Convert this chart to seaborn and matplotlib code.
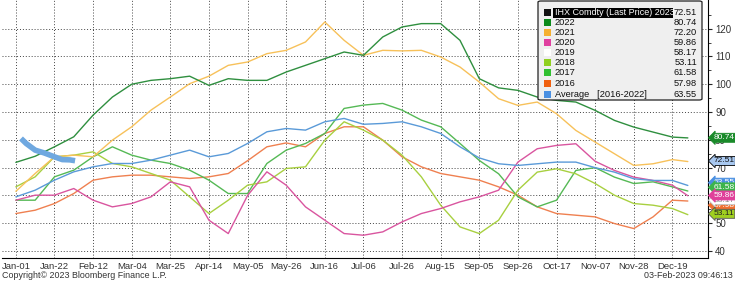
import numpy as np
import pandas as pd
import matplotlib
matplotlib.use("Agg")
import matplotlib.pyplot as plt
from matplotlib.patches import Rectangle, FancyBboxPatch
import seaborn as sns

# ---------------- data ----------------
tick_labels = ["Jan-01", "Jan-22", "Feb-12", "Mar-04", "Mar-25", "Apr-14", "May-05",
               "May-26", "Jun-16", "Jul-06", "Jul-26", "Aug-15", "Sep-05", "Sep-26",
               "Oct-17", "Nov-07", "Nov-28", "Dec-19"]

# business-day index of the sampled points
x_pos = list(np.arange(0, 256, 7.5)) + [261]

y2022 = [71.9, 74.1, 77.5, 81.1, 88.9, 95.4, 100.0, 101.4, 102.0, 102.9, 99.6, 102.0,
         101.4, 101.4, 104.4, 106.8, 109.2, 111.6, 110.4, 117.0, 120.6, 121.8, 121.8, 115.8,
         102.0, 98.7, 97.8, 95.4, 94.2, 93.6, 90.6, 87.0, 84.6, 82.8, 81.0, 80.7]
y2021 = [61.5, 67.9, 73.9, 74.5, 73.9, 79.9, 84.7, 90.7, 95.4, 100.2, 102.9, 106.8,
         108.0, 111.0, 112.2, 115.2, 122.4, 115.8, 110.4, 112.2, 112.0, 112.2, 109.8, 106.2,
         100.8, 94.8, 92.4, 93.6, 89.4, 83.4, 79.2, 75.0, 70.8, 71.4, 72.9, 72.2]
y2020 = [58.3, 60.1, 60.1, 62.5, 58.3, 55.9, 57.1, 59.5, 64.9, 63.1, 51.1, 46.3,
         60.0, 68.5, 63.7, 55.9, 51.1, 46.3, 45.7, 46.9, 50.5, 53.5, 55.3, 57.7,
         59.5, 61.9, 72.0, 76.8, 78.0, 78.6, 72.3, 69.0, 66.6, 65.4, 63.7, 59.9]
y2018 = [63.1, 66.7, 73.9, 74.5, 75.7, 71.5, 70.3, 67.9, 65.5, 59.5, 53.5, 58.3,
         63.7, 64.9, 69.7, 70.3, 79.9, 86.5, 83.5, 79.9, 74.5, 66.7, 56.5, 48.7,
         46.3, 51.1, 61.9, 68.4, 69.6, 67.8, 64.3, 60.1, 57.1, 56.5, 55.3, 53.1]
y2017 = [58.3, 58.3, 66.7, 69.1, 73.9, 77.5, 74.5, 72.7, 71.5, 69.1, 65.5, 60.7,
         60.7, 71.5, 76.3, 78.7, 82.3, 91.3, 92.5, 93.1, 90.7, 87.1, 84.7, 78.7,
         72.6, 67.8, 59.5, 55.9, 58.3, 69.0, 70.0, 66.6, 64.3, 64.9, 63.1, 61.6]
y2016 = [53.5, 54.7, 57.1, 60.7, 65.5, 66.7, 67.3, 67.3, 66.7, 66.1, 66.7, 67.9,
         72.5, 77.5, 78.9, 77.5, 82.3, 84.7, 84.7, 79.9, 73.9, 70.3, 67.9, 66.7,
         65.5, 63.1, 60.1, 55.9, 53.5, 52.9, 52.3, 49.9, 48.1, 52.3, 58.3, 58.0]
yavg = [59.5, 61.9, 65.5, 68.5, 70.3, 71.5, 71.5, 72.7, 74.5, 76.3, 73.9, 75.1,
        78.7, 82.9, 84.1, 83.5, 86.5, 87.7, 85.6, 85.9, 86.5, 84.7, 82.3, 77.5,
        73.5, 71.4, 70.8, 71.4, 72.0, 72.0, 70.0, 68.4, 66.0, 65.4, 65.4, 63.6]

x2023 = [2, 4, 7.5, 11, 15, 18, 21, 23]
y2023 = [80.5, 78.7, 76.3, 75.3, 73.9, 72.9, 72.8, 72.5]

legend_names = ["IHX Comdty (Last Price) 2023", "2022", "2021", "2020", "2019",
                "2018", "2017", "2016", "Average   [2016-2022]"]
legend_values = ["72.51", "80.74", "72.20", "59.86", "58.17", "53.11", "61.58", "57.98", "63.55"]

# ---------------- style ----------------
sns.set_style("white")
plt.rcParams["font.family"] = ["Liberation Sans", "DejaVu Sans"]

c2022 = "#2f8f3f"
c2021 = "#f7c15a"
c2020 = "#d9559f"
c2018 = "#a8d040"
c2017 = "#55b955"
c2016 = "#ef8050"
cavg = "#5a9ad8"
c2023 = "#6fa8e0"

fig = plt.figure(figsize=(7.35, 2.82), dpi=100)
ax = fig.add_axes([0.003, 0.086, 0.9605, 0.914])

series = [(y2016, c2016), (y2017, c2017), (y2018, c2018), (y2020, c2020),
          (y2021, c2021), (yavg, cavg), (y2022, c2022)]
for ys, col in series:
    sns.lineplot(x=x_pos, y=ys, ax=ax, color=col, linewidth=1.0, legend=False)
sns.lineplot(x=x2023, y=y2023, ax=ax, color=c2023, linewidth=4.0, legend=False,
             solid_capstyle="butt")

ax.set_xlim(-5.3, 268.9)
ax.set_ylim(37.6, 130.3)
ax.set_xticks(np.arange(0, 256, 15))
ax.set_xticklabels(tick_labels, fontsize=6.8, color="#333333")
ax.yaxis.tick_right()
ax.set_yticks(np.arange(40, 121, 10))
ax.set_yticks(np.arange(45, 126, 10), minor=True)
ax.tick_params(axis="y", which="major", direction="out", length=3, width=0.8,
               labelsize=7, labelcolor="#333333", pad=2)
ax.tick_params(axis="y", which="minor", direction="out", length=2, width=0.6)
ax.tick_params(axis="x", direction="out", length=0, pad=3)
ax.set_xlabel("")
ax.set_ylabel("")
ax.grid(True, which="major", linestyle=(0, (1, 2)), color="#444444", linewidth=0.7)
for s in ["top", "left"]:
    ax.spines[s].set_visible(False)
ax.spines["right"].set_color("black")
ax.spines["bottom"].set_color("black")
ax.spines["right"].set_linewidth(0.8)
ax.spines["bottom"].set_linewidth(0.8)

# ---------------- right-hand value labels ----------------
def vlabel(val_y, txt, fc, tc, ec=None):
    ax.annotate(txt, xy=(1.0, val_y), xycoords=("axes fraction", "data"),
                xytext=(3.6, 0), textcoords="offset points", fontsize=6.0, color=tc,
                va="center", ha="left", annotation_clip=False, zorder=10,
                bbox=dict(boxstyle="larrow,pad=0.12", fc=fc, ec=ec if ec else fc, lw=0.6))

vlabel(64.6, "63.55", "#4a90e2", "white")
vlabel(62.9, "61.58", "#3cb44b", "white")
vlabel(56.5, "57.98", "#f07030", "white")
vlabel(58.3, "58.17", "#ffffff", "#888888", "#bbbbbb")
vlabel(60.0, "59.86", "#e0409a", "white")
vlabel(53.4, "53.11", "#a0d020", "#222222", "#555555")
vlabel(80.74, "80.74", "#1a8a2a", "white")
vlabel(72.4, "72.51", "#a8c8f0", "#111111", "black")

# ---------------- legend (manual) ----------------
W, H = 735.0, 282.0
def fx(px):
    return px / W
def fy(py):
    return 1 - py / H

box = FancyBboxPatch((fx(538), fy(100)), fx(702) - fx(538), fy(1) - fy(100),
                     boxstyle="round,pad=0,rounding_size=0.004", transform=fig.transFigure,
                     fc="#efefef", ec="#222222", lw=0.9, zorder=20)
fig.add_artist(box)
row_y = [12.7, 22.7, 32.7, 42.7, 52.7, 62.7, 72.7, 83.3, 94.3]
sw_cols = ["#111111", "#0a8a1a", "#f5b030", "#e040a0", "#ffffff", "#90d020", "#30c030",
           "#f06010", "#4a90e2"]
for i, (nm, vv, sc) in enumerate(zip(legend_names, legend_values, sw_cols)):
    yy = row_y[i]
    fig.add_artist(Rectangle((fx(544), fy(yy + 3.5)), fx(7), 7 / H, transform=fig.transFigure,
                             fc=sc, ec="none", zorder=21))
    if i == 0:
        fig.add_artist(Rectangle((fx(553), fy(yy + 5)), fx(673) - fx(553), 10 / H,
                                 transform=fig.transFigure, fc="black", ec="none", zorder=21))
        fig.text(fx(555), fy(yy), nm, fontsize=6.5, color="white", va="center", ha="left", zorder=22)
    else:
        fig.text(fx(555), fy(yy), nm, fontsize=6.7, color="#111111", va="center", ha="left", zorder=22)
    fig.text(fx(697), fy(yy), vv, fontsize=6.7, color="#111111", va="center", ha="right", zorder=22)

# ---------------- footer ----------------
fig.text(fx(2), fy(275.5), "Copyright\u00a9 2023 Bloomberg Finance L.P.", fontsize=6.4,
         color="#333333", va="center", ha="left")
fig.text(fx(733), fy(275.5), "03-Feb-2023 09:46:13", fontsize=6.4, color="#333333",
         va="center", ha="right")

fig.savefig("out.png", dpi=100)
